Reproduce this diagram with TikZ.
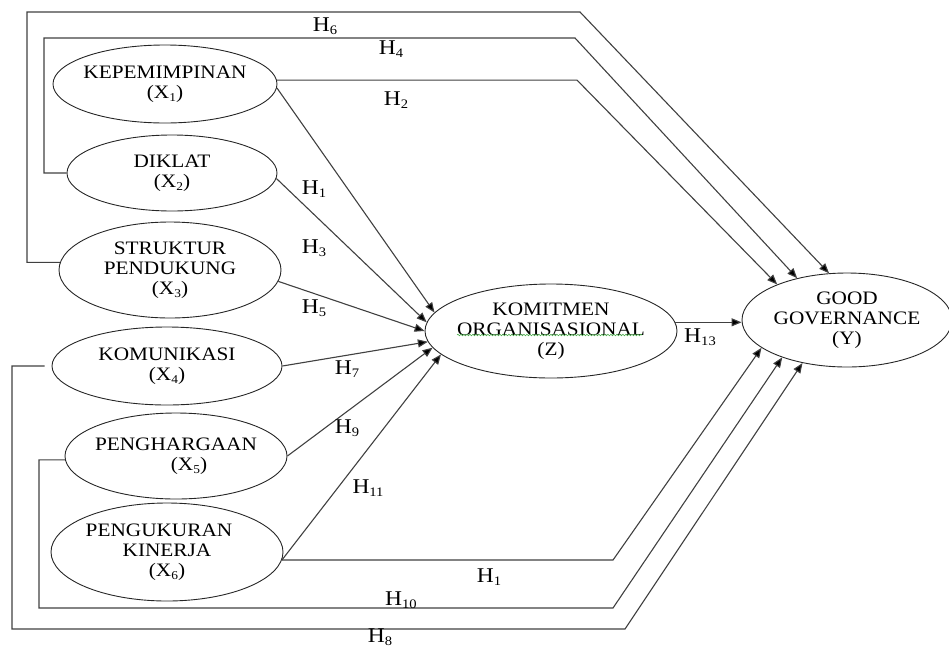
\documentclass[tikz,border=0pt]{standalone}
\usepackage{fontspec}
\setmainfont{Liberation Serif}[FakeStretch=1.12]
\usetikzlibrary{arrows.meta,shapes.geometric,decorations.pathmorphing}
\newcommand{\mkc}[1]{\makebox[0pt][c]{#1}}
\newcommand{\xs}[1]{\raisebox{-3pt}{\fontsize{12}{12}\selectfont #1}}
\newcommand{\hs}[1]{\raisebox{-3pt}{\fontsize{13}{13}\selectfont #1}}
\begin{document}
\begin{tikzpicture}[x=1pt,y=-1pt,
  var/.style={draw=black!85, line width=0.9pt, ellipse, inner sep=0pt, align=center,
    font=\fontsize{19}{20}\selectfont},
  conn/.style={draw=black!75, line width=1.1pt},
  arr/.style={conn, -{Triangle[length=10pt,width=8pt,fill=black]}},
  hlab/.style={anchor=base, inner sep=0pt, font=\fontsize{21}{21}\selectfont}]
\useasboundingbox (0,0) rectangle (949,648);

% variables
\node[var, minimum width=224pt, minimum height=78pt] (x1) at (165,84)
  {\mkc{KEPEMIMPINAN}\\\mkc{(X\xs{1})}};
\node[var, minimum width=210pt, minimum height=76pt] (x2) at (172,173)
  {\mkc{DIKLAT}\\\mkc{(X\xs{2})}};
\node[var, minimum width=222pt, minimum height=96pt] (x3) at (170,270)
  {\mkc{STRUKTUR}\\\mkc{PENDUKUNG}\\\mkc{(X\xs{3})}};
\node[var, minimum width=230pt, minimum height=78pt] (x4) at (167,366)
  {\mkc{KOMUNIKASI}\\\mkc{(X\xs{4})}};
\node[var, minimum width=222pt, minimum height=86pt] (x5) at (176,456)
  {\mkc{PENGHARGAAN}\\\mkc{\hspace*{26pt}(X\xs{5})}};
\node[var, minimum width=232pt, minimum height=98pt] (x6) at (167,552)
  {\mkc{\hspace*{-16pt}PENGUKURAN}\\\mkc{KINERJA}\\\mkc{(X\xs{6})}};
\node[var, minimum width=252pt, minimum height=94pt] (z) at (551,331)
  {\mkc{KOMITMEN}\\\mkc{ORGANISASIONAL}\\\mkc{(Z)}};
\node[var, minimum width=210pt, minimum height=94pt] (y) at (847,320)
  {\mkc{GOOD}\\\mkc{GOVERNANCE}\\\mkc{(Y)}};

% spell-check underline
\draw[green!55!black!70, line width=0.6pt, decorate,
  decoration={snake, amplitude=0.8pt, segment length=3pt}] (457,335) -- (642,335);

% bend coordinates
\coordinate (h2c) at (577,82);
\coordinate (h4b) at (44,38);
\coordinate (h4c) at (575,38);
\coordinate (h6b) at (27,12);
\coordinate (h6c) at (580,12);
\coordinate (h1c) at (613,560);
\coordinate (h10b) at (39,608);
\coordinate (h10c) at (613,608);
\coordinate (h8b) at (12,629);
\coordinate (h8c) at (625,629);

% arrows into Z
\draw[arr] (x1.-2) -- (z.171);
\draw[arr] (x2.-3) -- (z.176);
\draw[arr] (x3.-6) -- (z.180);
\draw[arr] (x4.east) -- (z.185);
\draw[arr] (x5.east) -- (z.188);
\draw[arr] (x6.-4) -- (z.192);

% Z to Y
\draw[arr] (z.4) -- (z.4 -| y.west);

% direct paths into Y
\draw[arr] (x1.2) -- (x1.2 -| h2c) -- (y.153);
\draw[arr] (x2.west) -- (x2.west -| h4b) |- (h4c) -- (y.140);
\draw[arr] (x3.176) -| (h6b) -- (h6c) -- (y.111);
\draw[arr] (x6.-4) -- (x6.-4 -| h1c) -- (y.198);
\draw[arr] (x5.182) -| (h10b) -- (h10c) -- (y.210);
\draw[arr, shorten <=7pt] (x4.west) -| (h8b) -- (h8c) -- (y.224);

% labels
\node[hlab] (l6) at (325,31.7) {H\hs{6}};
\node[hlab] (l4) at (391,54) {H\hs{4}};
\node[hlab] (l2) at (396,105) {H\hs{2}};
\node[hlab] (l1a) at (314,194) {H\hs{1}};
\node[hlab] (l3) at (314,253) {H\hs{3}};
\node[hlab] (l5) at (314,313) {H\hs{5}};
\node[hlab] (l7) at (347,374) {H\hs{7}};
\node[hlab] (l9) at (347,433) {H\hs{9}};
\node[hlab] (l11) at (368,493) {H\hs{11}};
\node[hlab] (l1b) at (489,582) {H\hs{1}};
\node[hlab] (l10) at (401,605) {H\hs{10}};
\node[hlab] (l8) at (380,642) {H\hs{8}};
\node[hlab] (l13) at (700,342) {H\hs{13}};
\end{tikzpicture}
\end{document}
